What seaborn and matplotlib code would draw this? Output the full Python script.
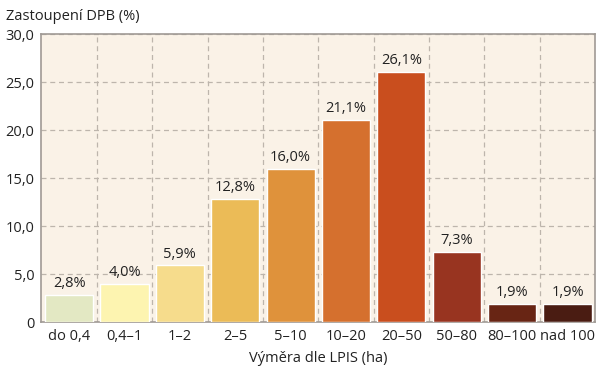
import numpy as np
import pandas as pd
import seaborn as sns
import matplotlib.pyplot as plt
from matplotlib.ticker import FixedLocator

sns.set_theme(style="white")
plt.rcParams['font.family'] = ['Open Sans', 'DejaVu Sans']

# Share of DPB by LPIS area class
categories = ["do 0,4", "0,4–1", "1–2", "2–5", "5–10", "10–20", "20–50", "50–80", "80–100", "nad 100"]
shares = [2.8, 4.0, 5.9, 12.8, 16.0, 21.1, 26.1, 7.3, 1.9, 1.9]
colors = ["#e3e8c3", "#fdf4b0", "#f6dc8c", "#ebbb57", "#df923b", "#d5702e", "#c94e1e",
          "#983420", "#682514", "#4a1c12"]
yticks = [0, 5, 10, 15, 20, 25, 30]
ytick_labels = ["0", "5,0", "10,0", "15,0", "20,0", "25,0", "30,0"]

df = pd.DataFrame({"cat": categories, "share": shares})

fig = plt.figure(figsize=(6, 3.75), dpi=100)
ax = fig.add_axes([0.069, 0.141, 0.923, 0.768])
ax.set_facecolor("#faf2e7")

sns.barplot(data=df, x="cat", y="share", hue="cat", palette=colors, legend=False,
            width=0.87, saturation=1, ax=ax, zorder=3)

ax.set_ylim(0, 30)
ax.set_xlim(-0.5, len(categories) - 0.5)
ax.set_yticks(yticks)
ax.set_yticklabels(ytick_labels)
ax.xaxis.set_minor_locator(FixedLocator(np.arange(0.5, len(categories) - 0.5, 1)))
ax.grid(axis="y", which="major", color="#bdb5ac", linestyle=(0, (4, 3)), linewidth=0.9, zorder=1)
ax.grid(axis="x", which="minor", color="#bdb5ac", linestyle=(0, (4, 3)), linewidth=0.9, zorder=1)
ax.tick_params(axis="both", which="both", length=0, labelsize=10.5, colors="#222222", pad=5)

for s in ax.spines.values():
    s.set_color("#a09a95")
    s.set_linewidth(1.2)

for i, v in enumerate(shares):
    ax.text(i, v + 0.4, f"{v:.1f}%".replace(".", ","), ha="center", va="bottom",
            fontsize=10.5, color="#222222", zorder=4)

ax.set_xlabel("Výměra dle LPIS (ha)", fontsize=10.5, color="#222222", labelpad=5)
ax.set_ylabel("")
fig.text(0.01, 0.975, "Zastoupení DPB (%)", fontsize=10.5, color="#222222", va="top", ha="left")

fig.savefig("out.png", dpi=100)
